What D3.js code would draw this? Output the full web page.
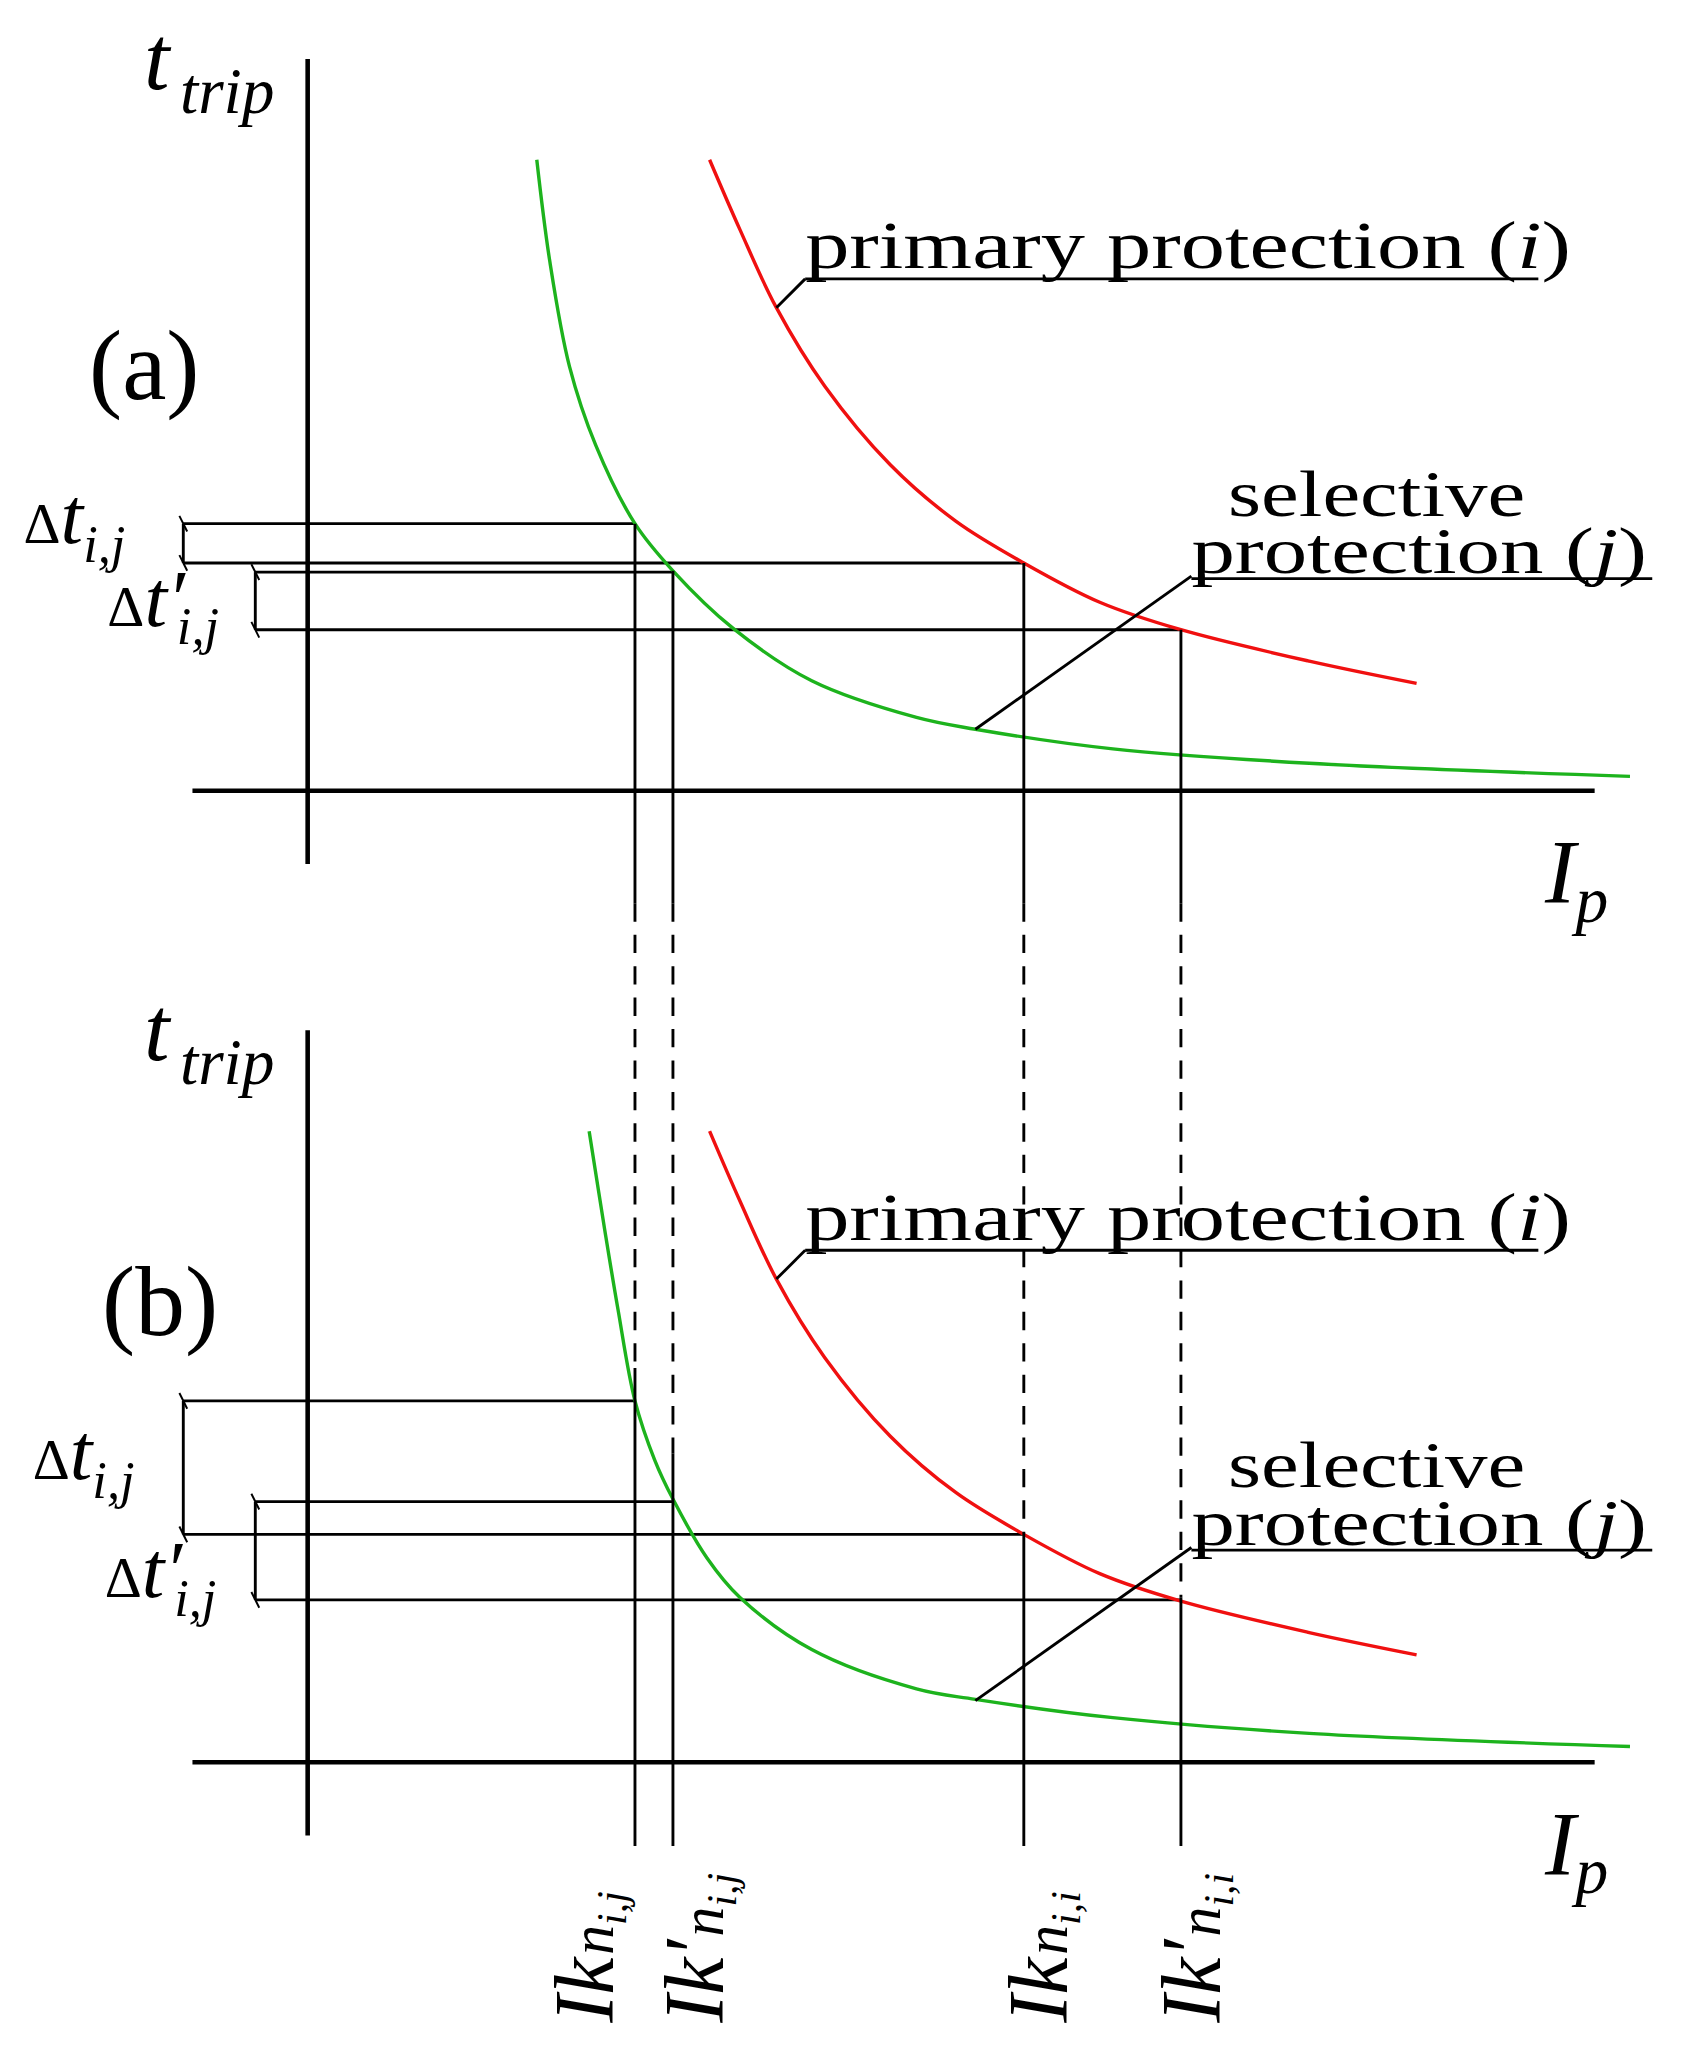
<!DOCTYPE html>
<html><head><meta charset="utf-8">
<script src="https://cdn.jsdelivr.net/npm/d3@7"></script>
<style>body{margin:0;background:#fff}svg{display:block}text{font-family:"Liberation Serif","DejaVu Serif",serif}</style>
</head><body>
<script>
// reference units (picture is 1300 wide in these units)
const greenA = [[410,122],[420,200],[435,280],[455,340],[485,400],[514,436],[560,480],[620,520],[700,548],[745,557],[850,572],[1000,583],[1245,593]];
const redA = [[542,122],[565,175],[593,235],[630,295],[680,355],[730,398],[782,430],[840,460],[902,481],[1000,505],[1082,522]];
const greenB = [[450,864],[462,940],[472,1000],[485,1070],[500,1115],[514,1145],[540,1190],[565,1220],[620,1260],[700,1290],[745,1298],[850,1312],[1000,1324],[1245,1334]];
const redB = redA.map(d => [d[0], d[1] + 742]);
const panelOffsets = [0, 742];
const panelNames = ["(a)", "(b)"];
const fault = [485, 514, 782, 902];
// horizontal markers: [y, xStart, xEnd] per panel
const hLinesA = [[400,140,485],[430,140,782],[437,195,514],[481,195,902]];
const hLinesB = [[1070,140,485],[1172,140,782],[1147,195,514],[1222,195,902]];
const bracketsA = [[140,400,430],[195,437,481]];
const bracketsB = [[140,1070,1172],[195,1147,1222]];
// vertical segments: [x, y0, y1, dashed]
const vSegs = [[485,400,690,0],[485,690,1045,1],[485,1045,1410,0],
  [514,436,690,0],[514,690,1110,1],[514,1110,1410,0],
  [782,430,690,0],[782,690,1170,1],[782,1170,1410,0],
  [902,481,690,0],[902,690,1220,1],[902,1220,1410,0]];
const bottomLabels = [["Ik","n","i,j",""],["Ik","n","i,j","′"],["Ik","n","i,i",""],["Ik","n","i,i","′"]];
const bottomBase = [468, 552, 815, 932];

const W = 1702, H = 2062;
const x = d3.scaleLinear().domain([0,1300]).range([0,W]);
const y = d3.scaleLinear().domain([0,1575]).range([0,H]);
const k = W/1300;
const svg = d3.select("body").append("svg").attr("width",W).attr("height",H);
const line = d3.line().x(d=>x(d[0])).y(d=>y(d[1])).curve(d3.curveCatmullRom);

function seg(x1,y1,x2,y2,w,dash){
  svg.append("line").attr("x1",x(x1)).attr("y1",y(y1)).attr("x2",x(x2)).attr("y2",y(y2))
    .attr("stroke","#000").attr("stroke-width",w*k).attr("stroke-dasharray",dash?`${14*k},${10*k}`:null);
}

[[greenA,redA,hLinesA,bracketsA],[greenB,redB,hLinesB,bracketsB]].forEach(([g,r,hl,br],i)=>{
  const o = panelOffsets[i];
  seg(235,45+o,235,660+o,3.5); seg(147,604+o,1218,604+o,3.5);
  hl.forEach(h=>seg(h[1],h[0],h[2],h[0],2.2));
  br.forEach(b=>{
    seg(b[0],b[1],b[0],b[2],2.2);
    [b[1],b[2]].forEach(yy=>{seg(b[0]-3,yy-6,b[0]+3,yy+6,1.5);});
  });
  svg.append("path").attr("d",line(g)).attr("fill","none").attr("stroke","#1db31d").attr("stroke-width",2.6*k);
  svg.append("path").attr("d",line(r)).attr("fill","none").attr("stroke","#f01010").attr("stroke-width",2.6*k);
  // leaders
  seg(593,235+o,615,213+o,2.2); seg(615,213+o,1175,213+o,2.2);
  seg(745,557+o,910,440+o,2.2); seg(910,442+o,1262,442+o,2.2);
  const t1 = svg.append("text").attr("x",x(615)).attr("y",y(205+o)).attr("font-size",52*k)
    .attr("textLength",585*k).attr("lengthAdjust","spacingAndGlyphs");
  t1.append("tspan").text("primary protection (");
  t1.append("tspan").attr("font-style","italic").text("i");
  t1.append("tspan").text(")");
  svg.append("text").attr("x",x(938)).attr("y",y(394+o)).attr("font-size",50*k)
    .attr("textLength",227*k).attr("lengthAdjust","spacingAndGlyphs").text("selective");
  const t2 = svg.append("text").attr("x",x(910)).attr("y",y(438+o)).attr("font-size",50*k)
    .attr("textLength",348*k).attr("lengthAdjust","spacingAndGlyphs");
  t2.append("tspan").text("protection (");
  t2.append("tspan").attr("font-style","italic").text("j");
  t2.append("tspan").text(")");
  // axis titles
  const tt = svg.append("text").attr("x",x(110)).attr("y",y(68+o)).attr("font-style","italic").attr("font-size",70*k);
  tt.append("tspan").text("t");
  tt.append("tspan").attr("dx",8*k).attr("dy",18*k).attr("font-size",50*k).text("trip");
  const ip = svg.append("text").attr("x",x(1180)).attr("y",y(690+o)).attr("font-style","italic").attr("font-size",70*k);
  ip.append("tspan").text("I");
  ip.append("tspan").attr("dy",14*k).attr("font-size",50*k).text("p");
  svg.append("text").attr("x",x(i?78:68)).attr("y",y((i?278:305)+o)).attr("font-size",76*k).text(panelNames[i]);
  // delta labels
  const ly = i ? [1130,1220] : [415,478];
  const lx = i ? [25,80] : [18,82];
  [["t",""],["t","′"]].forEach((s,j)=>{
    const d = svg.append("text").attr("x",x(lx[j])).attr("y",y(ly[j])).attr("font-size",62*k);
    d.append("tspan").attr("font-size",44*k).text("Δ");
    d.append("tspan").attr("font-style","italic").text(s[0]+s[1]);
    d.append("tspan").attr("font-style","italic").attr("font-size",40*k).attr("dx",(s[1]?-6:0)*k).attr("dy",14*k).text("i,j");
  });
});
vSegs.forEach(v=>seg(v[0],v[1],v[0],v[2],2.2,v[3]));
fault.forEach((fx,i)=>{
  const L = bottomLabels[i];
  const t = svg.append("text").attr("transform",`translate(${x(bottomBase[i])},${y(1545)}) rotate(-90)`)
    .attr("font-style","italic").attr("font-size",64*k);
  t.append("tspan").text(L[0]);
  t.append("tspan").text(L[3]);
  t.append("tspan").attr("font-size",46*k).attr("dx",2*k).text(L[1]);
  t.append("tspan").attr("font-size",32*k).attr("dy",10*k).text(L[2]);
});
</script>
</body></html>
